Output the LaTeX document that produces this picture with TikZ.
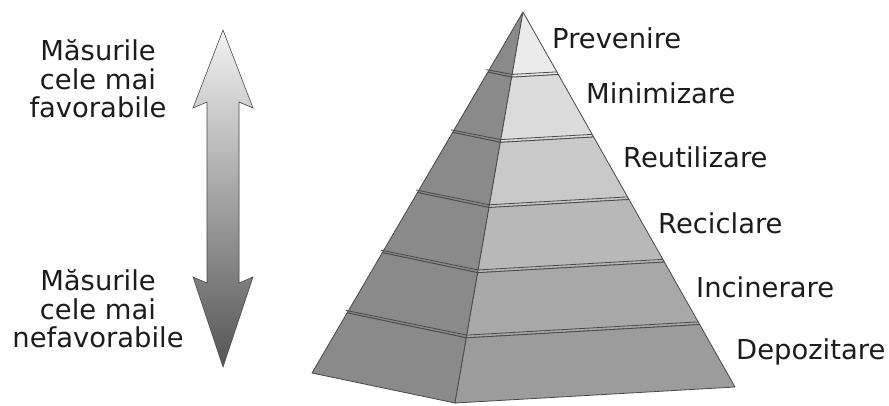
\documentclass[tikz,border=0pt]{standalone}
\usepackage{fontspec}
\setmainfont{DejaVu Sans}
\usetikzlibrary{calc,positioning}
\definecolor{inkgray}{HTML}{1C1C1C}
\definecolor{edgegray}{HTML}{484848}
\definecolor{sidegray}{HTML}{8A8A8A}
\definecolor{arrtop}{HTML}{F2F2F2}
\definecolor{arrbot}{HTML}{555555}
\tikzset{
  lvltext/.style={anchor=base west, inner sep=0pt, text=inkgray,
                  font=\fontsize{27.4}{28.5}\selectfont},
  sidetext/.style={align=center, inner sep=0pt, text=inkgray,
                   font=\fontsize{27.4}{28.5}\selectfont},
  face/.style={draw=edgegray, line width=0.8pt, line join=round},
  ledge/.style={draw=edgegray, line width=0.8pt}}

\begin{document}
\begin{tikzpicture}[x=1pt, y=-1pt]
    \useasboundingbox (0,0) rectangle (889,405);
    % pyramid corners
    \coordinate (apex) at (523,12);
    \coordinate (lbase) at (312,373);
    \coordinate (fbase) at (455,403);
    \coordinate (rbase) at (735,387);
    % six slices, top to bottom
    \foreach \k/\shd in {0/8,1/14,2/21,3/28,4/34,5/39}{
      \pgfmathsetmacro{\ta}{\k/6}
      \pgfmathsetmacro{\tb}{(\k+1)/6}
      \path[face, fill=sidegray] ($(apex)!\ta!(lbase)$) -- ($(apex)!\ta!(fbase)$)
        -- ($(apex)!\tb!(fbase)$) -- ($(apex)!\tb!(lbase)$) -- cycle;
      \path[face, fill=black!\shd] ($(apex)!\ta!(fbase)$) -- ($(apex)!\ta!(rbase)$)
        -- ($(apex)!\tb!(rbase)$) -- ($(apex)!\tb!(fbase)$) -- cycle;
    }
    % step ledges
    \foreach \k in {1,...,5}{
      \pgfmathsetmacro{\tc}{\k/6-0.007}
      \draw[ledge] ($(apex)!\tc!(lbase)+(-3,0)$) -- ($(apex)!\tc!(fbase)$)
        -- ($(apex)!\tc!(rbase)$);
    }
    % level labels
    \node[lvltext] (prev) at (552,48) {Prevenire};
    \node[lvltext] (mini) at (586,103) {Minimizare};
    \node[lvltext] (reut) at (623,167) {Reutilizare};
    \node[lvltext] (reci) at (658,233) {Reciclare};
    \node[lvltext] (inci) at (696,297) {Incinerare};
    \node[lvltext] (depo) at (736,359) {Depozitare};
    % double arrow
    \shade[top color=arrtop, bottom color=arrbot, draw=edgegray, line width=0.6pt]
      (223,30) -- (253,108) -- (239,102) -- (239,283) -- (253,277) -- (223,367)
      -- (193,277) -- (207,283) -- (207,102) -- (193,108) -- cycle;
    % side captions
    \node[sidetext] (fav) at (98,79) {Măsurile\\cele mai\\favorabile};
    \node[sidetext] (nefav) at (98,309) {Măsurile\\cele mai\\nefavorabile};
  \end{tikzpicture}
\end{document}
